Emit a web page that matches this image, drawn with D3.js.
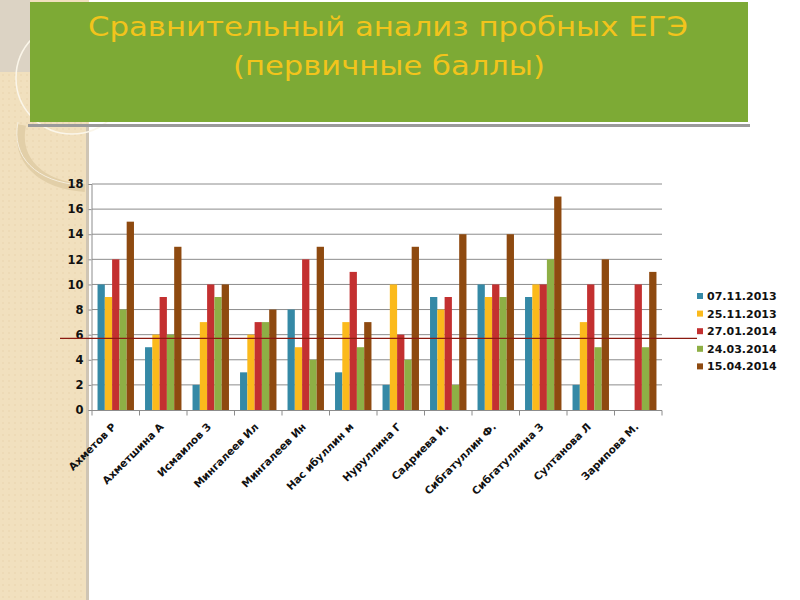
<!DOCTYPE html>
<html><head><meta charset="utf-8">
<script src="https://cdn.jsdelivr.net/npm/d3@7"></script>
<style>html,body{margin:0;padding:0;background:#fff;}svg{display:block;}</style>
</head><body>
<svg id="c" width="800" height="600"></svg>
<script>
const categories = ["Ахметов Р","Ахметшина А","Исмаилов З","Мингалеев Ил","Мингалеев Ин","Нас ибуллин м","Нуруллина Г","Садриева И.","Сибгатуллин Ф.","Сибгатуллина З","Султанова Л","Зарипова М."];
const seriesNames = ["07.11.2013","25.11.2013","27.01.2014","24.03.2014","15.04.2014"];
const s1 = [10,5,2,3,8,3,2,9,10,9,2,0];
const s2 = [9,6,7,6,5,7,10,8,9,10,7,0];
const s3 = [12,9,10,7,12,11,6,9,10,10,10,10];
const s4 = [8,6,9,7,4,5,4,2,9,12,5,5];
const s5 = [15,13,10,8,13,7,13,14,14,17,12,11];
const yTicks = [0,2,4,6,8,10,12,14,16,18];
const refValue = 5.7;
const titleLines = ["Сравнительный анализ пробных ЕГЭ","(первичные баллы)"];
const colors = ["#3589A6","#FBBA1C","#C33030","#8EAF45","#8E4A10"];

const series = [s1,s2,s3,s4,s5];
const svg = d3.select("#c");

// background decoration
const defs = svg.append("defs");
const pat = defs.append("pattern").attr("id","pt").attr("width",6).attr("height",6).attr("patternUnits","userSpaceOnUse");
pat.append("rect").attr("width",6).attr("height",6).attr("fill","#F1E0BE");
pat.append("circle").attr("cx",3).attr("cy",3).attr("r",1).attr("fill","#ECD9B3");
svg.append("rect").attr("x",0).attr("y",0).attr("width",89).attr("height",600).attr("fill","url(#pt)");
svg.append("rect").attr("x",0).attr("y",0).attr("width",30).attr("height",72).attr("fill","#DCD3C4");
svg.append("rect").attr("x",86).attr("y",126).attr("width",3).attr("height",474).attr("fill","#CFC5B4");
svg.append("circle").attr("cx",72).attr("cy",78).attr("r",56).attr("fill","none").attr("stroke","#FBF6EA").attr("stroke-width",1.5);
svg.append("path").attr("d","M22,125 C15,160 40,185 85,188").attr("fill","none").attr("stroke","#E2CFA8").attr("stroke-width",8);
svg.append("path").attr("d","M22,125 C15,160 40,185 85,188").attr("fill","none").attr("stroke","#F6EEDD").attr("stroke-width",1).attr("transform","translate(-4,-3)");

// title box
svg.append("rect").attr("x",28).attr("y",124).attr("width",722).attr("height",3).attr("fill","#9A9A9A");
svg.append("rect").attr("x",30).attr("y",2).attr("width",718).attr("height",120).attr("fill","#7DAA35");
const tt = svg.append("g").attr("font-family","'DejaVu Sans', sans-serif").attr("fill","#F2C41C").attr("font-size",27).attr("text-anchor","middle");
tt.append("text").attr("x",388).attr("y",36).attr("textLength",600).attr("lengthAdjust","spacingAndGlyphs").text(titleLines[0]);
tt.append("text").attr("x",389).attr("y",75).attr("textLength",312).attr("lengthAdjust","spacingAndGlyphs").text(titleLines[1]);

// scales
const x0 = d3.scaleBand().domain(categories).range([92,662]).padding(0);
const x1 = d3.scaleBand().domain(d3.range(5)).range([0,x0.bandwidth()]).paddingInner(0).paddingOuter(0.76);
const y = d3.scaleLinear().domain([0,18]).range([410,184]);

// grid
svg.append("g").selectAll("line").data(yTicks.filter(d=>d>0)).join("line")
  .attr("x1",92).attr("x2",662).attr("y1",d=>y(d)).attr("y2",d=>y(d))
  .attr("stroke","#8C8C8C").attr("stroke-width",1);

// y axis
const ya = svg.append("g").attr("transform","translate(91.5,0)")
  .call(d3.axisLeft(y).tickValues(yTicks).tickSize(3).tickPadding(5));
ya.select(".domain").attr("stroke","#8C8C8C");
ya.selectAll(".tick line").attr("stroke","#8C8C8C");
ya.selectAll("text").attr("font-family","'DejaVu Sans', sans-serif").attr("font-weight","bold").attr("font-size",11.5).attr("fill","#111");

// bars
const g = svg.append("g");
categories.forEach((c,i)=>{
  series.forEach((s,k)=>{
    if(s[i]>0) g.append("rect").attr("x",x0(c)+x1(k)).attr("y",y(s[i])).attr("width",x1.bandwidth()).attr("height",y(0)-y(s[i])).attr("fill",colors[k]);
  });
});

// x axis
const xa = svg.append("g").attr("transform","translate(0,410.5)");
xa.append("line").attr("x1",91).attr("x2",662).attr("stroke","#8C8C8C");
xa.selectAll(".tk").data(d3.range(categories.length+1)).join("line").attr("class","tk")
  .attr("x1",d=>92+d*x0.bandwidth()).attr("x2",d=>92+d*x0.bandwidth()).attr("y1",0).attr("y2",5).attr("stroke","#8C8C8C");
xa.selectAll("text").data(categories).join("text")
  .attr("transform",d=>`translate(${x0(d)+x0.bandwidth()/2+1},${17}) rotate(-45)`)
  .attr("text-anchor","end").attr("font-family","'DejaVu Sans', sans-serif").attr("font-weight","bold").attr("font-size",10.5).attr("fill","#111")
  .text(d=>d);

// reference line
svg.append("line").attr("x1",60).attr("x2",697).attr("y1",y(refValue)).attr("y2",y(refValue)).attr("stroke","#8B1A10").attr("stroke-width",1.2);

// legend
const lg = svg.append("g").attr("font-family","'DejaVu Sans', sans-serif").attr("font-weight","bold").attr("font-size",11).attr("fill","#111");
seriesNames.forEach((n,k)=>{
  const yy = 296 + k*17.6;
  lg.append("rect").attr("x",697).attr("y",yy-3).attr("width",6).attr("height",6).attr("fill",colors[k]);
  lg.append("text").attr("x",707).attr("y",yy+4).text(n);
});
</script>
</body></html>
